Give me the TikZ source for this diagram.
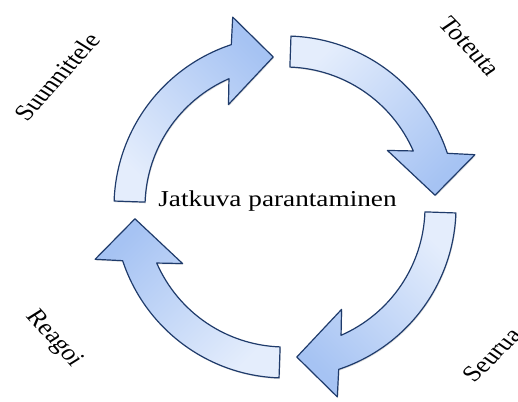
\documentclass[tikz,border=0pt]{standalone}
\usepackage{fontspec}
\setmainfont{Liberation Serif}
\usetikzlibrary{shadows}

\definecolor{arrowline}{HTML}{1F3B6B}
\definecolor{arrowlight}{HTML}{E4EDFC}
\definecolor{arrowdark}{HTML}{A6C3F3}

\tikzset{
  cyclearrow/.style={draw=arrowline, line width=1.2pt, line join=round,
    drop shadow={shadow xshift=0.8pt, shadow yshift=-1.2pt, opacity=0.25}},
  steplabel/.style={font=\fontsize{22.7}{26}\selectfont, transform shape,
    inner sep=0pt, text=black},
  % one curved arrow of the cycle: #1 = base angle, #2 = shading angle
  pics/bentarrow/.style args={#1/#2}{code={
    \path[cyclearrow, top color=arrowdark, bottom color=arrowlight, shading angle=#2]
      ({#1+88}:171) arc[start angle={#1+88}, end angle={#1+18.3}, radius=171]
      -- ({#1+15.4}:197) -- ({#1+4.5}:150.5) -- ({#1+28.9}:117)
      -- ({#1+23.6}:140) arc[start angle={#1+23.6}, end angle={#1+88}, radius=140]
      -- cycle;
  }},
}

\begin{document}
\begin{tikzpicture}[x=1pt, y=1pt]
  \clip (0,0) rectangle (518,401);
  \fill[white] (0,0) rectangle (518,401);
  \begin{scope}[shift={(285,194)}, xscale=1.2]
    % the four arrows of the cycle
    \pic {bentarrow={90/-45}};
    \pic {bentarrow={0/-135}};
    \pic {bentarrow={270/135}};
    \pic {bentarrow={180/45}};
    % labels
    \node[steplabel, anchor=base] (center) at (-6.25,0) {Jatkuva parantaminen};
    \node[steplabel, rotate=53] (plan) at (-190,130) {Suunnittele};
    \node[steplabel, rotate=-51] (do) at (154,161) {Toteuta};
    \node[steplabel, rotate=50] (check) at (172.5,-148) {Seurua};
    \node[steplabel, rotate=-53] (act) at (-192.5,-132) {Reagoi};
  \end{scope}
\end{tikzpicture}
\end{document}
